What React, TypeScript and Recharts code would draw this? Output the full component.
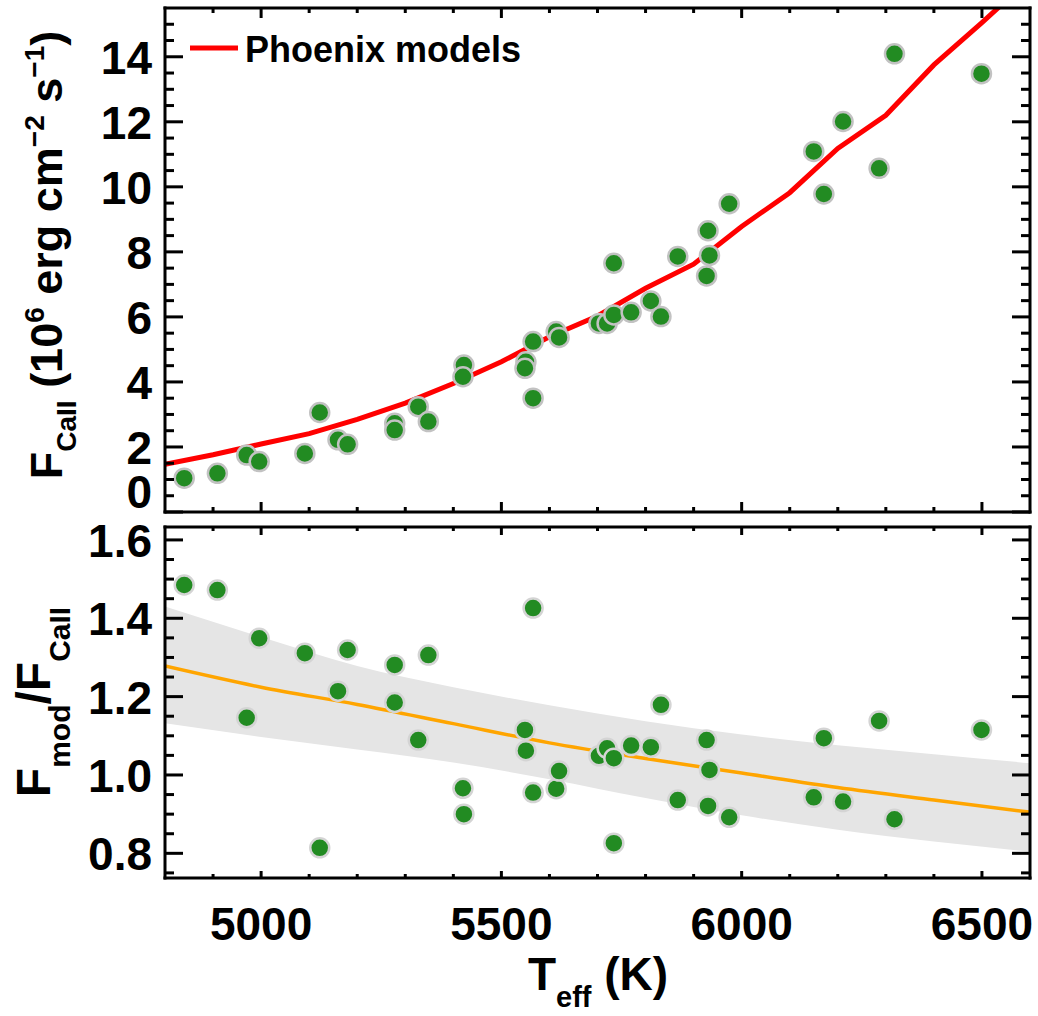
import { ComposedChart, Line, Scatter, Area, XAxis, YAxis, Legend } from "recharts";

// measured stars: effective temperature, Ca II flux (1e6 erg/cm2/s), model/observed ratio
const TEFF = [
  4840, 4909, 4970, 4996, 5091, 5122, 5160, 5180, 5278, 5278, 5327, 5348, 5422, 5420, 5551, 5549, 5566, 5566, 5614,
  5620, 5703, 5720, 5734, 5734, 5770, 5811, 5832, 5867, 5930, 5933, 5927, 5974, 6150, 6171, 6211, 6286, 6318, 6499,
];
const FLUX = [
  1.04, 1.19, 1.75, 1.55, 1.8, 3.06, 2.22, 2.08, 2.73, 2.52, 3.24, 2.78, 4.52, 4.16, 4.62, 4.42, 5.24, 3.5, 5.55,
  5.37, 5.8, 5.8, 6.06, 7.65, 6.14, 6.49, 6.01, 7.86, 8.65, 7.89, 7.26, 9.48, 11.09, 9.78, 12.01, 10.57, 14.09, 13.48,
];
const RATIO = [
  1.485, 1.472, 1.146, 1.349, 1.311, 0.814, 1.214, 1.319, 1.185, 1.281, 1.089, 1.306, 0.9, 0.966, 1.062, 1.115, 0.955,
  1.426, 0.965, 1.01, 1.049, 1.068, 1.043, 0.826, 1.075, 1.071, 1.179, 0.936, 0.921, 1.013, 1.089, 0.892, 0.943, 1.094,
  0.932, 1.138, 0.887, 1.115,
];

// Phoenix model grid
const MODEL_TEFF = [
  4800, 4900, 5000, 5100, 5200, 5300, 5400, 5500, 5600, 5700, 5800, 5900, 6000, 6100, 6200, 6300, 6400, 6500, 6600,
];
const MODEL_FLUX = [
  1.47, 1.76, 2.09, 2.41, 2.85, 3.35, 3.95, 4.62, 5.39, 6.03, 6.88, 7.62, 8.78, 9.82, 11.18, 12.2, 13.75, 15.05, 16.4,
];

// ratio fit and its uncertainty band
const FIT_TEFF = [4800, 5000, 5200, 5400, 5600, 5800, 6000, 6200, 6400, 6600];
const FIT_RATIO = [1.278, 1.224, 1.18, 1.131, 1.082, 1.042, 1.005, 0.968, 0.936, 0.905];
const FIT_HIGH = [1.43, 1.352, 1.278, 1.224, 1.178, 1.137, 1.103, 1.076, 1.053, 1.03];
const FIT_LOW = [1.132, 1.097, 1.065, 1.032, 0.989, 0.941, 0.897, 0.86, 0.83, 0.804];

const T_TICKS = [4900, 5000, 5100, 5200, 5300, 5400, 5500, 5600, 5700, 5800, 5900, 6000, 6100, 6200, 6300, 6400, 6500];
const T_LABELS = [5000, 5500, 6000, 6500];
const F_TICKS = [
  0, 0.5, 1, 1.5, 2, 2.5, 3, 3.5, 4, 4.5, 5, 5.5, 6, 6.5, 7, 7.5, 8, 8.5, 9, 9.5, 10, 10.5, 11, 11.5, 12, 12.5, 13,
  13.5, 14, 14.5, 15,
];
const F_LABELS = [0, 2, 4, 6, 8, 10, 12, 14];
const R_TICKS = [
  0.75, 0.8, 0.85, 0.9, 0.95, 1.0, 1.05, 1.1, 1.15, 1.2, 1.25, 1.3, 1.35, 1.4, 1.45, 1.5, 1.55, 1.6,
];
const R_LABELS = [0.8, 1.0, 1.2, 1.4, 1.6];

const fluxPoints = TEFF.map((T, i) => ({ T, flux: FLUX[i] }));
const ratioPoints = TEFF.map((T, i) => ({ T, ratio: RATIO[i] }));
const modelRows = MODEL_TEFF.map((T, i) => ({ T, model: MODEL_FLUX[i] }));
const fitRows = FIT_TEFF.map((T, i) => ({ T, fit: FIT_RATIO[i], band: [FIT_LOW[i], FIT_HIGH[i]] }));

const FONT = "'Liberation Sans', Arial, Helvetica, sans-serif";
const W = 1038;
const H = 1016;
const T_DOMAIN: [number, number] = [4800, 6600];
const F_DOMAIN: [number, number] = [0, 15.5];
const R_DOMAIN: [number, number] = [0.737, 1.633];
const frame = { stroke: "#000", strokeWidth: 3, strokeLinecap: "square" as const };

type Side = "bottom" | "top" | "left" | "right";
const has = (list: number[], v: number) => list.some((l) => Math.abs(l - v) < 1e-6);

// inward ticks (IDL style), label only on requested sides
function ticker(side: Side, majors: number[], big: number, small: number, label?: (v: number) => string) {
  return (props: any) => {
    const { x, y, payload } = props;
    const v = payload.value as number;
    const major = has(majors, v);
    const len = major ? big : small;
    let line;
    if (side === "bottom") line = <line x1={x} y1={y} x2={x} y2={y - len} />;
    else if (side === "top") line = <line x1={x} y1={y} x2={x} y2={y + len} />;
    else if (side === "left") line = <line x1={x} y1={y} x2={x + len} y2={y} />;
    else line = <line x1={x} y1={y} x2={x - len} y2={y} />;
    let text = null;
    if (label && major) {
      const common = { fontFamily: FONT, fontWeight: 700, fontSize: 46, fill: "#000" };
      if (side === "bottom") {
        text = (
          <text x={x} y={y + 62} textAnchor="middle" {...common}>
            {label(v)}
          </text>
        );
      } else {
        // the bottom "0" sits a bit above its tick in the original
        const nudge = v === 0 ? -21 : 0;
        text = (
          <text x={x - 13} y={y + 17 + nudge} textAnchor="end" {...common}>
            {label(v)}
          </text>
        );
      }
    }
    return (
      <g stroke="#000" strokeWidth={3}>
        {line}
        {text && <g stroke="none">{text}</g>}
      </g>
    );
  };
}

const dot = (stroke: string) => (p: any) =>
  <circle cx={p.cx} cy={p.cy} r={9.5} fill="#228b22" stroke={stroke} strokeWidth={2.5} />;

function LegendBox() {
  return (
    <svg width={360} height={50}>
      <line x1={2} y1={24} x2={50} y2={24} stroke="#ff0000" strokeWidth={5} />
      <text x={57} y={38} fontFamily={FONT} fontWeight={700} fontSize={36} fill="#000">
        Phoenix models
      </text>
    </svg>
  );
}

export default function App() {
  return (
    <div style={{ position: "absolute", left: 0, top: 0, width: W, height: H, background: "#fff" }}>
      <div style={{ position: "absolute", left: 0, top: 0 }}>
        <ComposedChart width={W} height={H} data={modelRows} margin={{ top: 7, right: 7, bottom: 503, left: 164 }}>
          <XAxis xAxisId="b" dataKey="T" type="number" domain={T_DOMAIN} allowDataOverflow ticks={T_TICKS}
            interval={0} height={1} tickSize={0} tickMargin={0} tickLine={false} axisLine={frame}
            tick={ticker("bottom", T_LABELS, 10, 5)} />
          <XAxis xAxisId="t" orientation="top" dataKey="T" type="number" domain={T_DOMAIN} allowDataOverflow
            ticks={T_TICKS} interval={0} height={1} tickSize={0} tickMargin={0} tickLine={false} axisLine={frame}
            tick={ticker("top", T_LABELS, 10, 5)} />
          <YAxis yAxisId="l" type="number" domain={F_DOMAIN} allowDataOverflow ticks={F_TICKS} interval={0}
            width={1} tickSize={0} tickMargin={0} tickLine={false} axisLine={frame}
            tick={ticker("left", F_LABELS, 18, 9, (v) => String(v))} />
          <YAxis yAxisId="r" orientation="right" type="number" domain={F_DOMAIN} allowDataOverflow ticks={F_TICKS}
            interval={0} width={1} tickSize={0} tickMargin={0} tickLine={false} axisLine={frame}
            tick={ticker("right", F_LABELS, 18, 9)} />
          <Line xAxisId="b" yAxisId="l" dataKey="model" type="linear" stroke="#ff0000" strokeWidth={5} dot={false}
            activeDot={false} isAnimationActive={false} />
          <Scatter xAxisId="b" yAxisId="l" data={fluxPoints} dataKey="flux" shape={dot("#c2c2c2")}
            isAnimationActive={false} />
          <Legend verticalAlign="middle" align="center" layout="horizontal" content={() => <LegendBox />}
            wrapperStyle={{ top: 24, left: 188, width: 360, height: 50 }} />
        </ComposedChart>
      </div>
      <div style={{ position: "absolute", left: 0, top: 0 }}>
        <ComposedChart width={W} height={H} data={fitRows} margin={{ top: 526, right: 7, bottom: 137, left: 164 }}>
          <XAxis xAxisId="b" dataKey="T" type="number" domain={T_DOMAIN} allowDataOverflow ticks={T_TICKS}
            interval={0} height={1} tickSize={0} tickMargin={0} tickLine={false} axisLine={frame}
            tick={ticker("bottom", T_LABELS, 7, 4, (v) => String(v))} />
          <XAxis xAxisId="t" orientation="top" dataKey="T" type="number" domain={T_DOMAIN} allowDataOverflow
            ticks={T_TICKS} interval={0} height={1} tickSize={0} tickMargin={0} tickLine={false} axisLine={frame}
            tick={ticker("top", T_LABELS, 8, 4)} />
          <YAxis yAxisId="l" type="number" domain={R_DOMAIN} allowDataOverflow ticks={R_TICKS} interval={0}
            width={1} tickSize={0} tickMargin={0} tickLine={false} axisLine={frame}
            tick={ticker("left", R_LABELS, 18, 9, (v) => v.toFixed(1))} />
          <YAxis yAxisId="r" orientation="right" type="number" domain={R_DOMAIN} allowDataOverflow ticks={R_TICKS}
            interval={0} width={1} tickSize={0} tickMargin={0} tickLine={false} axisLine={frame}
            tick={ticker("right", R_LABELS, 18, 9)} />
          <Area xAxisId="b" yAxisId="l" dataKey="band" type="monotone" stroke="none" fill="#e5e5e5" fillOpacity={1}
            activeDot={false} isAnimationActive={false} />
          <Line xAxisId="b" yAxisId="l" dataKey="fit" type="monotone" stroke="#ffa500" strokeWidth={3.5} dot={false}
            activeDot={false} isAnimationActive={false} />
          <Scatter xAxisId="b" yAxisId="l" data={ratioPoints} dataKey="ratio" shape={dot("#d4d4d4")}
            isAnimationActive={false} />
        </ComposedChart>
      </div>
      <svg width={W} height={H} style={{ position: "absolute", left: 0, top: 0, pointerEvents: "none" }}>
        <g fontFamily={FONT} fontWeight={700} fill="#000" style={{ whiteSpace: "pre" }}>
          <text transform="translate(62,255) rotate(-90)" textAnchor="middle" fontSize={45}>
            <tspan>F</tspan>
            <tspan dy={14} fontSize={28}>CaII</tspan>
            <tspan dy={-14}> (10</tspan>
            <tspan dy={-18} fontSize={28}>6</tspan>
            <tspan dy={18}> erg cm</tspan>
            <tspan dy={-18} fontSize={28}>−2</tspan>
            <tspan dy={18}> s</tspan>
            <tspan dy={-18} fontSize={28}>−1</tspan>
            <tspan dy={18}>)</tspan>
          </text>
          <text transform="translate(50,702) rotate(-90)" textAnchor="middle" fontSize={48}>
            <tspan>F</tspan>
            <tspan dy={20} fontSize={30}>mod</tspan>
            <tspan dy={-20}>/F</tspan>
            <tspan dy={20} fontSize={30}>CaII</tspan>
          </text>
          <text x={598} y={990} textAnchor="middle" fontSize={46}>
            <tspan>T</tspan>
            <tspan dy={17} fontSize={29}>eff</tspan>
            <tspan dy={-17}> (K)</tspan>
          </text>
        </g>
      </svg>
    </div>
  );
}
